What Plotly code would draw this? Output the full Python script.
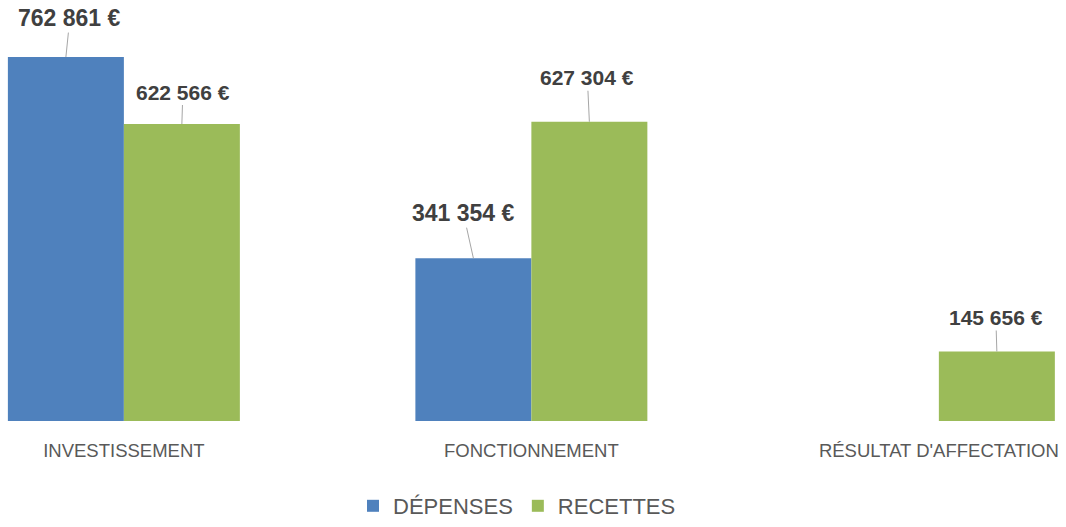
import plotly.graph_objects as go

categories = ["INVESTISSEMENT", "FONCTIONNEMENT", "RÉSULTAT D'AFFECTATION"]
depenses = [762861, 341354, None]
recettes = [622566, 627304, 145656]
series_names = ["DÉPENSES", "RECETTES"]

BLUE = "#4F81BD"
GREEN = "#9BBB59"
LABEL = "#404040"
AXIS_TXT = "#595959"
LEADER = "#A6A6A6"


def fmt(v):
    return f"{v:,}".replace(",", " ") + " €"


fig = go.Figure()
fig.add_trace(go.Bar(x=categories, y=depenses, name=series_names[0],
                     marker=dict(color=BLUE, line=dict(width=0))))
fig.add_trace(go.Bar(x=categories, y=recettes, name=series_names[1],
                     marker=dict(color=GREEN, line=dict(width=0))))

# leader-line data labels
half = 0.1423
blue_off = [(4, -39), (-10, -45), None]
green_off = [(1, -32), (-2, -44), (-1, -34)]
annotations = []
for i, v in enumerate(depenses):
    if v is None:
        continue
    ax, ay = blue_off[i]
    annotations.append(dict(x=i - half, y=v, xref="x", yref="y", text=fmt(v),
                            showarrow=True, arrowhead=0, arrowwidth=1,
                            arrowcolor=LEADER, standoff=0, ax=ax, ay=ay,
                            font=dict(family="Liberation Sans", size=23,
                                      color=LABEL, weight="bold")))
for i, v in enumerate(recettes):
    ax, ay = green_off[i]
    annotations.append(dict(x=i + half, y=v, xref="x", yref="y", text=fmt(v),
                            showarrow=True, arrowhead=0, arrowwidth=1,
                            arrowcolor=LEADER, standoff=0, ax=ax, ay=ay,
                            font=dict(family="Liberation Sans", size=21,
                                      color=LABEL, weight="bold")))

fig.update_layout(
    width=1066, height=527,
    margin=dict(l=0, r=0, t=0, b=103),
    paper_bgcolor="white", plot_bgcolor="white",
    barmode="group", bargap=0.4307, bargroupgap=0,
    showlegend=True,
    legend=dict(orientation="h", x=0.485, xanchor="center", y=-0.203,
                yanchor="middle",
                font=dict(family="Liberation Sans", size=22, color=AXIS_TXT)),
    xaxis=dict(type="category", categoryorder="array", categoryarray=categories,
               range=[-0.304, 2.312], showline=False, showgrid=False,
               zeroline=False, ticks="", ticklabelstandoff=16,
               tickfont=dict(family="Liberation Sans", size=18.5, color=AXIS_TXT)),
    yaxis=dict(range=[0, 882500], visible=False, showgrid=False, zeroline=False),
    annotations=annotations,
)

fig.write_html("out.html", config={"displayModeBar": False},
               post_script="document.body.style.margin='0';document.body.style.overflow='hidden';")
